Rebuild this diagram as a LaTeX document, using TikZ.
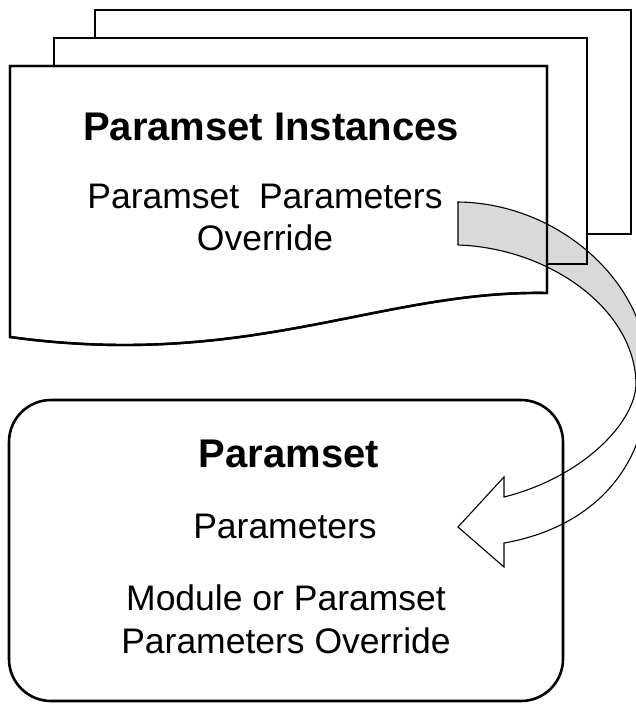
\documentclass[tikz,border=0pt]{standalone}
\usepackage{fontspec}
\setmainfont{Liberation Sans}
\begin{document}
\begin{tikzpicture}[x=1pt,y=-1pt,
  page/.style={draw=black,line width=2.4pt,fill=white,line join=miter},
  pageline/.style={draw=black,line width=2.4pt,line join=miter},
  ribbon/.style={draw=black,line width=1.1pt,line join=miter},
  title/.style={anchor=base,inner sep=0pt,font=\bfseries\fontsize{40}{47}\selectfont},
  body/.style={anchor=base,inner sep=0pt,font=\fontsize{35.5}{42}\selectfont}]
\useasboundingbox (0,0) rectangle (635,704);

% stacked instance pages
\path[page] (95,10) rectangle (631,234);
\path[page] (54,38) rectangle (587,264);
\path[page] (10,66) -- (547,66) -- (547,293)
  .. controls (380,290) and (250,370) .. (10,337) -- cycle;

% ribbon arrow: key points of its outer and inner edges
\coordinate (tailtop) at (458,202);
\coordinate (tailbot) at (458,245);
\coordinate (outmax) at (648,380);
\coordinate (inmax) at (636,385);

% shaded front face of the ribbon
\path[fill=gray!30] (tailtop) .. controls (560,203) and (652,285) .. (outmax)
  -- (inmax) .. controls (636,310) and (550,248) .. (tailbot) -- cycle;

% visible page edges stay on top of the ribbon
\path[pageline] (95,38) -- (95,10) -- (631,10) -- (631,234) -- (587,234);
\path[pageline] (54,66) -- (54,38) -- (587,38) -- (587,264) -- (547,264);
\path[pageline] (10,66) -- (547,66) -- (547,293)
  .. controls (380,290) and (250,370) .. (10,337) -- cycle;

% lower box
\draw[line width=2.6pt,rounded corners=42pt] (9,400) rectangle (563,701);

% ribbon arrow outline
\draw[ribbon] (tailbot) -- (tailtop) .. controls (560,203) and (652,285) .. (outmax)
  .. controls (648,470) and (590,528) .. (504,543) -- (504,567) -- (458,527)
  -- (504,477) -- (504,497) .. controls (580,478) and (634,425) .. (inmax)
  .. controls (636,310) and (550,248) .. (tailbot);

% texts
\node[title] (inst) at (271,140) {Paramset Instances};
\node[body] (ovr1) at (265,208) {Paramset\ \ Parameters};
\node[body] (ovr2) at (265,250) {Override};
\node[title] (pset) at (289,467) {Paramset};
\node[body] (par) at (285,538) {Parameters};
\node[body] (mod1) at (286,610) {Module or Paramset};
\node[body] (mod2) at (286,653) {Parameters Override};
\end{tikzpicture}
\end{document}
